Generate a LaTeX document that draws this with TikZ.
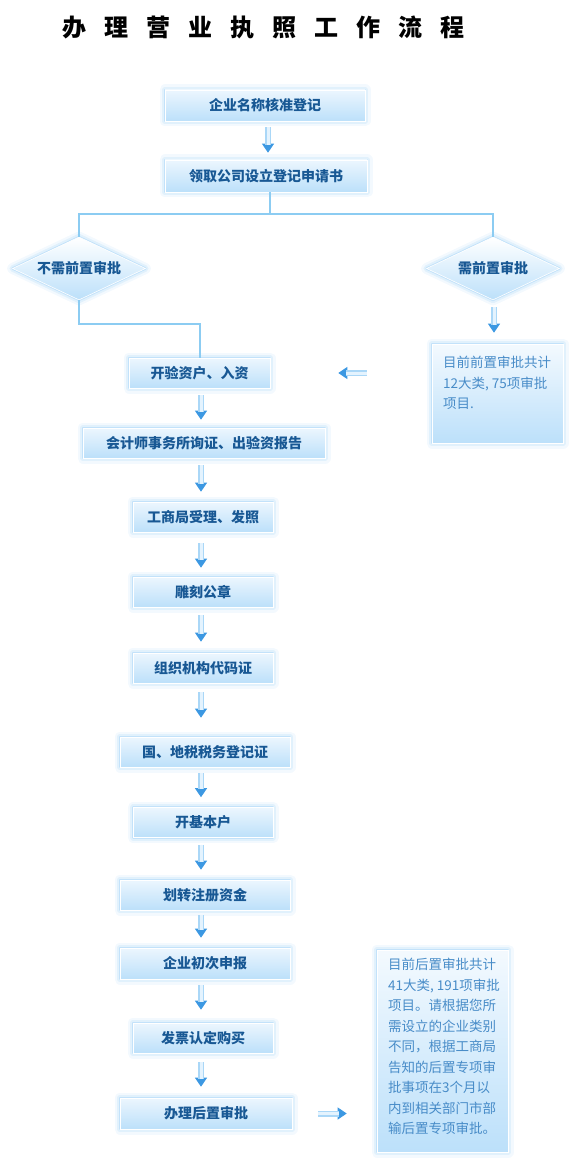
\documentclass[tikz,border=0pt]{standalone}
\usepackage{fontspec}
\setmainfont{Noto Sans CJK SC}
\newfontfamily\titlefont{Noto Sans CJK SC Black}
\usetikzlibrary{shapes.geometric,arrows.meta,calc}
\definecolor{txt}{RGB}{24,88,148}
\definecolor{infoc}{RGB}{72,140,200}
\definecolor{glowc}{RGB}{140,200,245}
\definecolor{boxtop}{RGB}{236,246,254}
\definecolor{boxbot}{RGB}{188,224,250}
\definecolor{linec}{RGB}{140,204,242}
\definecolor{headc}{RGB}{60,152,226}
\definecolor{shaftc}{RGB}{170,215,247}
\definecolor{shaftin}{RGB}{228,243,254}
\begin{document}
\begin{tikzpicture}[x=1pt,y=-1pt,
 glow/.style={preaction={draw=glowc, line width=11pt, draw opacity=.10, line join=round},
              preaction={draw=glowc, line width=6.5pt, draw opacity=.18, line join=round},
              preaction={draw=glowc, line width=2.5pt, draw opacity=.35, line join=round}},
 stepbox/.style={glow, rectangle, top color=boxtop, bottom color=boxbot, draw=white, line width=.6pt,
                 inner sep=0pt, text=txt, font=\fontsize{14}{16}\selectfont\bfseries},
 dia/.style={glow, diamond, aspect=2.1, top color=white, bottom color=boxbot, draw=white, line width=.6pt,
             inner sep=0pt, minimum width=133pt, minimum height=63pt, text=txt, font=\fontsize{14}{16}\selectfont\bfseries},
 infobox/.style={glow, rectangle, top color=boxtop!60!white, bottom color=boxbot, draw=white, line width=.6pt, inner sep=0pt},
 infotext/.style={text=infoc, font=\fontsize{13.5}{20.5}\selectfont, align=left, anchor=north west, inner sep=0pt},
 conn/.style={draw=linec, line width=1.2pt},
 fat/.style={preaction={draw=headc, line width=1pt, shorten >=0pt, -{Triangle[width=12pt,length=9pt]}},
             draw=shaftc, line width=6pt, shorten >=8pt,
             postaction={draw=shaftin, line width=3pt, shorten >=8pt}}
]
\useasboundingbox (0,0) rectangle (586,1169);

% title
\node[anchor=west, inner sep=0pt, font=\fontsize{24}{24}\selectfont\titlefont] (title) at (62,27)
  {\spaceskip=18pt\relax 办 理 营 业 执 照 工 作 流 程};

% main boxes
\node[stepbox, minimum width=200pt, minimum height=31pt] (b1) at (265,105.5) {企业名称核准登记};
\node[stepbox, minimum width=202pt, minimum height=32pt] (b2) at (266,176) {领取公司设立登记申请书};

\node[dia] (d1) at (79,268.5) {不需前置审批};
\node[dia] (d2) at (493,268.5) {需前置审批};

\node[stepbox, minimum width=141pt, minimum height=30pt] (yz) at (199.5,373) {开验资户、入资};
\node[stepbox, minimum width=242pt, minimum height=30pt] (kj) at (204,443) {会计师事务所询证、出验资报告};
\node[stepbox, minimum width=140pt, minimum height=30pt] (gs) at (203,517) {工商局受理、发照};
\node[stepbox, minimum width=140pt, minimum height=30pt] (dk) at (203,592) {雕刻公章};
\node[stepbox, minimum width=140pt, minimum height=30pt] (zz) at (203,668) {组织机构代码证};
\node[stepbox, minimum width=170pt, minimum height=30pt] (sw) at (205,752) {国、地税税务登记证};
\node[stepbox, minimum width=140pt, minimum height=30pt] (jb) at (203,822.5) {开基本户};
\node[stepbox, minimum width=170pt, minimum height=30pt] (hz) at (205,895) {划转注册资金};
\node[stepbox, minimum width=170pt, minimum height=31pt] (cs) at (205,963.5) {企业初次申报};
\node[stepbox, minimum width=140pt, minimum height=30pt] (fp) at (203,1038) {发票认定购买};
\node[stepbox, minimum width=172pt, minimum height=31pt] (hq) at (206,1113.5) {办理后置审批};

% info boxes
\node[infobox, minimum width=131pt, minimum height=99pt] (info1) at (497.5,393.5) {};
\node[infotext] (info1t) at (443,356) {目前前置审批共计\\12大类, 75项审批\\项目.};
\node[infobox, minimum width=131pt, minimum height=202pt] (info2) at (442.5,1051) {};
\node[infotext] (info2t) at (388,958) {目前后置审批共计\\41大类, 191项审批\\项目。请根据您所\\需设立的企业类别\\不同，根据工商局\\告知的后置专项审\\批事项在3个月以\\内到相关部门市部\\输后置专项审批。};

% thin connectors
\coordinate (j1) at (270,214);
\coordinate (j2) at (200,324);
\draw[conn] (b2.south -| j1) -- (j1);
\draw[conn] (j1) -| (d1.north);
\draw[conn] (j1) -| (d2.north);
\draw[conn] (d1.south) |- (j2) -- (yz.north -| j2);

% fat arrows
\draw[fat] ($(b1.south)+(3,6)$) -- ($(b2.north)+(2,-7)$);
\draw[fat] ($(d2.south)+(1,7)$) -- ($(info1.north -| d2.south)+(1,-11)$);
\draw[fat] ($(yz.south)+(1.5,7)$) -- ($(kj.north -| yz.south)+(1.5,-8)$);
\draw[fat] ($(kj.south -| gs.south)+(-2,7)$) -- ($(gs.north)+(-2,-10)$);
\draw[fat] ($(gs.south)+(-2,11)$) -- ($(dk.north)+(-2,-9)$);
\draw[fat] ($(dk.south)+(-2,8)$) -- ($(zz.north)+(-2,-11)$);
\draw[fat] ($(zz.south)+(-2,9)$) -- ($(sw.north -| zz.south)+(-2,-19)$);
\draw[fat] ($(sw.south -| jb.south)+(-2,6)$) -- ($(jb.north)+(-2,-10)$);
\draw[fat] ($(jb.south)+(-2,7)$) -- ($(hz.north -| jb.south)+(-2,-10)$);
\draw[fat] ($(hz.south -| fp.south)+(-2,5)$) -- ($(cs.north -| fp.south)+(-2,-10)$);
\draw[fat] ($(cs.south -| fp.south)+(-2,6)$) -- ($(fp.north)+(-2,-13)$);
\draw[fat] ($(fp.south)+(-2,9)$) -- ($(hq.north -| fp.south)+(-2,-11)$);

\draw[fat] ($(info1.west |- yz.east)+(-65,0)$) -- ($(yz.east)+(68,0)$);
\draw[fat] ($(hq.east)+(26,0)$) -- ($(hq.east -| info2.west)+(-30,0)$);
\end{tikzpicture}
\end{document}
